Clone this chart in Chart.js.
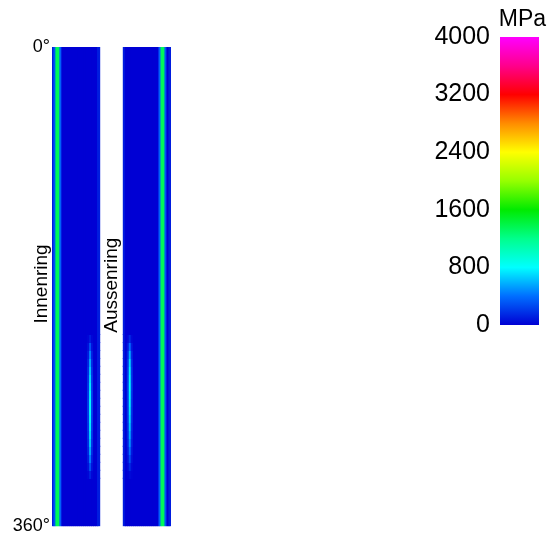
<!DOCTYPE html>
<html>
<head>
<meta charset="utf-8">
<script src="https://cdn.jsdelivr.net/npm/chart.js@4.4.0/dist/chart.umd.min.js"></script>
<style>
  html, body { margin: 0; padding: 0; background: #fff; }
  #wrap { position: relative; width: 549px; height: 539px; }
  #ringChart { position: absolute; left: 0; top: 0; }
  #scaleChart { position: absolute; left: 400px; top: 0; }
</style>
</head>
<body>
<div id="wrap">
  <canvas id="ringChart" width="200" height="539"></canvas>
  <canvas id="scaleChart" width="149" height="539"></canvas>
</div>
<script>
// Winkelabschnitte entlang des Umfangs (Grad)
const angleEdges = [0, 216, 222, 228, 234, 240, 246, 252, 258, 264, 270, 276, 282, 288, 294, 300, 306, 312, 318, 324, 360];

// Spannung quer über die Ringbreite (MPa), eine Spalte je Wert
const innerProfile = [100, 300, 1350, 1350, 350, 0, 0, 0, 0, 0, 0, 0, 0, 0, 0, 0, 0, 0, 0, 0, 0, 0, 0, 100];
const outerProfile = [100, 0, 0, 0, 0, 0, 0, 0, 0, 0, 0, 0, 0, 0, 0, 0, 0, 0, 350, 1350, 1350, 300, 0, 100];

// schmaler Streifen im unteren Bereich (MPa je Winkelabschnitt)
const innerStreakCore = [0, 100, 300, 450, 560, 640, 700, 740, 770, 780, 780, 770, 750, 710, 650, 560, 440, 290, 120, 0];
const innerStreakSide = [0, 20, 60, 100, 140, 170, 190, 200, 210, 220, 220, 210, 200, 190, 170, 140, 100, 60, 20, 0];
const outerStreakCore = [0, 150, 400, 580, 700, 760, 790, 800, 790, 770, 740, 700, 650, 580, 500, 400, 280, 150, 40, 0];
const outerStreakSide = [0, 30, 90, 140, 180, 200, 210, 220, 210, 200, 190, 180, 160, 140, 120, 90, 60, 30, 10, 0];

const angleTicks = [0, 360];
const scaleTicks = [0, 800, 1600, 2400, 3200, 4000];
const scaleMax = 4000;

const gapColumns = 12;
const innerStreakCol = 19;
const outerStreakCol = 3;

// Farbskala (Wert in MPa -> rgb)
const colorStops = [
  [0, [0, 0, 212]],
  [400, [0, 110, 255]],
  [800, [0, 255, 255]],
  [1200, [0, 255, 140]],
  [1600, [0, 235, 0]],
  [2000, [150, 255, 0]],
  [2400, [255, 255, 0]],
  [2800, [255, 140, 0]],
  [3200, [255, 0, 0]],
  [3600, [255, 0, 140]],
  [4000, [255, 0, 255]]
];

function stressColor(v) {
  for (let i = 1; i < colorStops.length; i++) {
    const [v1, c1] = colorStops[i];
    const [v0, c0] = colorStops[i - 1];
    if (v <= v1) {
      const t = (v - v0) / (v1 - v0);
      const c = c0.map((a, k) => Math.round(a + (c1[k] - a) * t));
      return `rgb(${c[0]},${c[1]},${c[2]})`;
    }
  }
  return 'rgb(255,0,255)';
}

function withStreak(profile, col, core, side, s) {
  return profile.map((v, i) => {
    if (i === col) return Math.max(v, core[s]);
    if (i === col - 1 || i === col + 1) return Math.max(v, side[s]);
    return v;
  });
}

const columnCount = innerProfile.length + gapColumns + outerProfile.length;
const columnLabels = [];
for (let i = 0; i < columnCount; i++) columnLabels.push(String(i));

const ringDatasets = [];
for (let s = 0; s < angleEdges.length - 1; s++) {
  const inner = withStreak(innerProfile, innerStreakCol, innerStreakCore, innerStreakSide, s);
  const outer = withStreak(outerProfile, outerStreakCol, outerStreakCore, outerStreakSide, s);
  const values = [...inner, ...new Array(gapColumns).fill(null), ...outer];
  ringDatasets.push({
    data: values.map(v => v === null ? null : [angleEdges[s], angleEdges[s + 1]]),
    backgroundColor: values.map(v => v === null ? 'transparent' : stressColor(v)),
    borderWidth: 0,
    inflateAmount: 0.6,
    grouped: false,
    barPercentage: 1,
    categoryPercentage: 1
  });
}

const fontFamily = 'Arial, "Liberation Sans", sans-serif';

// Beschriftung der beiden Ringe (gedreht)
const ringLabels = {
  id: 'ringLabels',
  afterDraw(chart) {
    const { ctx, chartArea, scales } = chart;
    const gapMid = (scales.x.getPixelForValue(innerProfile.length) +
      scales.x.getPixelForValue(innerProfile.length + gapColumns - 1)) / 2;
    const labels = [
      ['Innenring', chartArea.left - 10, scales.y.getPixelForValue(178)],
      ['Aussenring', gapMid, scales.y.getPixelForValue(179)]
    ];
    labels.forEach(([text, x, y]) => {
      ctx.save();
      ctx.font = '19px ' + fontFamily;
      ctx.fillStyle = '#000';
      ctx.textAlign = 'center';
      ctx.textBaseline = 'middle';
      ctx.translate(x, y);
      ctx.rotate(-Math.PI / 2);
      ctx.fillText(text, 0, 0);
      ctx.restore();
    });
  }
};

new Chart(document.getElementById('ringChart'), {
  type: 'bar',
  data: { labels: columnLabels, datasets: ringDatasets },
  options: {
    responsive: false,
    animation: false,
    layout: { padding: { left: 0, top: 47, right: 29, bottom: 12 } },
    plugins: { legend: { display: false }, tooltip: { enabled: false } },
    scales: {
      x: { display: false },
      y: {
        reverse: true,
        min: 0,
        max: 360,
        afterBuildTicks: scale => { scale.ticks = angleTicks.map(v => ({ value: v })); },
        afterFit: scale => { scale.width = 52; },
        grid: { display: false, drawTicks: false },
        border: { display: false },
        ticks: {
          autoSkip: false,
          padding: 2,
          color: '#000',
          font: { size: 18, family: fontFamily },
          callback: v => v + '°'
        }
      }
    }
  },
  plugins: [ringLabels]
});

// Farbbalken
const unitLabel = {
  id: 'unitLabel',
  afterDraw(chart) {
    const { ctx, chartArea } = chart;
    ctx.save();
    ctx.font = '23px ' + fontFamily;
    ctx.fillStyle = '#000';
    ctx.textAlign = 'center';
    ctx.textBaseline = 'middle';
    ctx.fillText('MPa', (chartArea.left + chartArea.right) / 2 + 3, 20);
    ctx.restore();
  }
};

new Chart(document.getElementById('scaleChart'), {
  type: 'bar',
  data: {
    labels: ['MPa'],
    datasets: [{
      data: [[0, scaleMax]],
      backgroundColor(c) {
        const chart = c.chart;
        if (!chart.chartArea) return 'rgb(0,0,212)';
        const y = chart.scales.y;
        const g = chart.ctx.createLinearGradient(0, y.getPixelForValue(0), 0, y.getPixelForValue(scaleMax));
        colorStops.forEach(([v, rgb]) => g.addColorStop(v / scaleMax, `rgb(${rgb[0]},${rgb[1]},${rgb[2]})`));
        return g;
      },
      borderWidth: 0,
      barPercentage: 1,
      categoryPercentage: 1
    }]
  },
  options: {
    responsive: false,
    animation: false,
    layout: { padding: { left: 0, top: 37, right: 10, bottom: 214 } },
    plugins: { legend: { display: false }, tooltip: { enabled: false } },
    scales: {
      x: { display: false },
      y: {
        min: 0,
        max: scaleMax,
        afterBuildTicks: scale => { scale.ticks = scaleTicks.map(v => ({ value: v })); },
        afterFit: scale => { scale.width = 100; },
        grid: { display: false, drawTicks: false },
        border: { display: false },
        ticks: {
          autoSkip: false,
          padding: 10,
          color: '#000',
          font: { size: 25, family: fontFamily },
          callback: v => String(v)
        }
      }
    }
  },
  plugins: [unitLabel]
});
</script>
</body>
</html>
